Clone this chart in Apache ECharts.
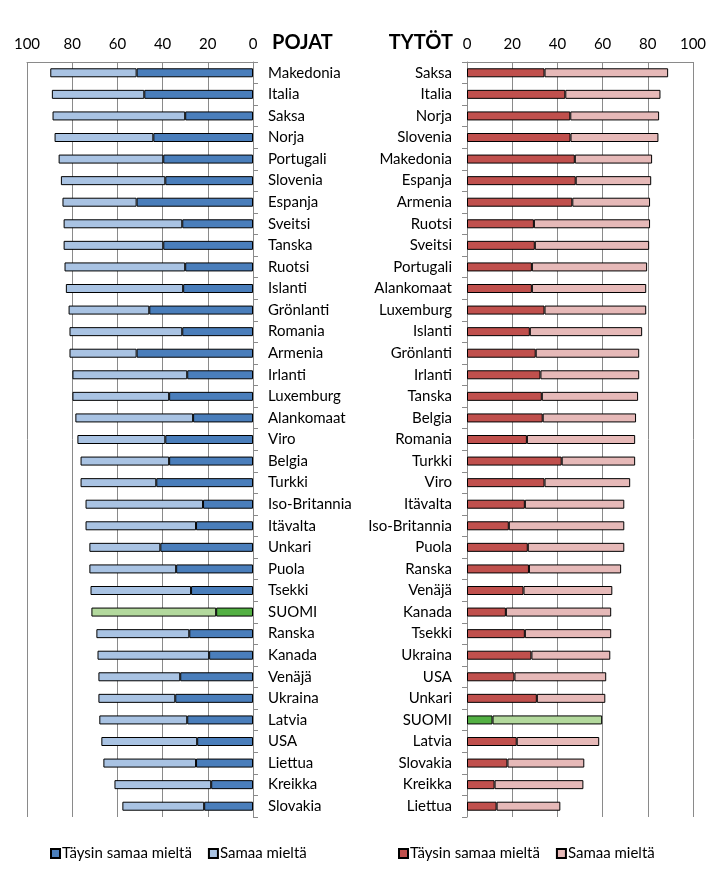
<!DOCTYPE html>
<html><head><meta charset="utf-8">
<script src="https://cdn.jsdelivr.net/npm/echarts@6/dist/echarts.min.js"></script>
<style>html,body{margin:0;padding:0;background:#fff}#c{width:720px;height:880px}</style>
</head><body><div id="c"></div>
<script>
var boysCats = ['Makedonia','Italia','Saksa','Norja','Portugali','Slovenia','Espanja','Sveitsi','Tanska','Ruotsi','Islanti','Grönlanti','Romania','Armenia','Irlanti','Luxemburg','Alankomaat','Viro','Belgia','Turkki','Iso-Britannia','Itävalta','Unkari','Puola','Tsekki','SUOMI','Ranska','Kanada','Venäjä','Ukraina','Latvia','USA','Liettua','Kreikka','Slovakia'];
var boysTaysin = [51.5,48.1,30.0,44.1,39.7,38.8,51.5,31.3,39.7,30.0,30.9,45.9,31.3,51.5,29.1,37.1,26.5,38.8,37.1,42.8,22.1,25.2,41.0,34.0,27.4,16.3,28.2,19.4,32.2,34.4,29.1,24.7,25.2,18.5,21.6];
var boysSamaa  = [38.2,40.9,58.7,43.7,46.3,46.2,32.8,52.5,44.1,53.4,51.9,35.7,49.9,29.7,50.8,42.8,52.1,38.9,39.2,33.5,52.0,48.9,31.4,38.4,44.5,55.2,41.1,49.4,36.2,34.0,38.9,42.4,41.0,42.8,36.2];

var girlsCats = ['Saksa','Italia','Norja','Slovenia','Makedonia','Espanja','Armenia','Ruotsi','Sveitsi','Portugali','Alankomaat','Luxemburg','Islanti','Grönlanti','Irlanti','Tanska','Belgia','Romania','Turkki','Viro','Itävalta','Iso-Britannia','Puola','Ranska','Venäjä','Kanada','Tsekki','Ukraina','USA','Unkari','SUOMI','Latvia','Slovakia','Kreikka','Liettua'];
var girlsTaysin = [34.3,43.5,45.7,45.8,47.7,48.1,46.6,29.6,30.0,28.7,28.7,34.3,27.8,30.4,32.5,33.1,33.5,26.5,41.9,34.3,25.6,18.5,26.9,27.4,25.0,17.2,25.6,28.5,21.0,30.9,11.3,22.0,17.9,12.2,13.1];
var girlsSamaa  = [54.7,42.1,39.3,38.9,34.2,33.4,34.4,51.4,50.6,51.0,50.6,45.0,49.7,45.8,43.7,42.6,41.3,47.9,32.5,37.9,44.0,51.1,42.7,40.8,39.3,46.6,38.2,34.9,40.6,30.3,48.5,36.5,34.0,39.3,28.2];

var xTicks = [0,20,40,60,80,100];
var highlight = 'SUOMI';

var C = {
  blueDark:'#4a7ebb', blueLight:'#a9c3e3',
  redDark:'#c0504d', redLight:'#e6b9b8',
  greenDark:'#53b043', greenLight:'#b3d99d'
};
var FONT = 'Lato';

function mk(vals, cats, color, hiColor){
  return vals.map(function(v,i){
    return cats[i]===highlight ? {value:v, itemStyle:{color:hiColor}} : v;
  });
}

var chart = echarts.init(document.getElementById('c'), null, {renderer:'canvas'});
var gridTop = 62, gridH = 755, gridW = 226;
var axisLabelStyle = {color:'#000', fontSize:15, fontFamily:FONT};
var gridLineStyle = {color:'#8a8a8a', width:1};

function xAx(idx, inv){
  return {
    gridIndex:idx, type:'value', min:0, max:100, interval:20, inverse:inv, position:'top',
    axisLine:{show:true, lineStyle:{color:'#8a8a8a'}}, axisTick:{show:false},
    axisLabel:Object.assign({margin:10, formatter:function(v){return xTicks.indexOf(v)>=0?String(v):'';}}, axisLabelStyle),
    splitLine:{show:true, lineStyle:gridLineStyle}
  };
}
function yAx(idx, cats, pos){
  return {
    gridIndex:idx, type:'category', data:cats, inverse:true, position:pos,
    axisLine:{show:true, lineStyle:{color:'#8a8a8a'}},
    axisTick:{show:true, length:5, lineStyle:{color:'#8a8a8a'}},
    axisLabel:Object.assign({margin:15, align: pos==='right'?'left':'right'}, axisLabelStyle)
  };
}
function bar(name, xi, data, color, stack){
  return {
    name:name, type:'bar', xAxisIndex:xi, yAxisIndex:xi, stack:stack, barWidth:9,
    data:data, itemStyle:{color:color, borderColor:'#000', borderWidth:1},
    animation:false, silent:true
  };
}
var TS = 'Täysin samaa mieltä', SM = 'Samaa mieltä';
var fmt = function(n){ return n.replace(/ \(T\)$/,''); };

chart.setOption({
  animation:false,
  title:[
    {text:'POJAT', left:272, top:33, padding:0, textStyle:{fontSize:20, fontWeight:'bold', color:'#000', fontFamily:FONT}},
    {text:'TYTÖT', right:267, top:33, padding:0, textStyle:{fontSize:20, fontWeight:'bold', color:'#000', fontFamily:FONT}}
  ],
  grid:[
    {left:27, top:gridTop, width:gridW, height:gridH},
    {left:467, top:gridTop, width:gridW, height:gridH}
  ],
  xAxis:[xAx(0,true), xAx(1,false)],
  yAxis:[yAx(0,boysCats,'right'), yAx(1,girlsCats,'left')],
  legend:[
    {left:45, top:841, itemWidth:9, itemHeight:9, itemGap:16, icon:'rect', data:[TS, SM], formatter:fmt,
     textStyle:{fontSize:15, fontFamily:FONT, color:'#000', padding:[0,0,0,-3]}, selectedMode:false},
    {left:393, top:841, itemWidth:9, itemHeight:9, itemGap:16, icon:'rect', data:[TS+' (T)', SM+' (T)'], formatter:fmt,
     textStyle:{fontSize:15, fontFamily:FONT, color:'#000', padding:[0,0,0,-3]}, selectedMode:false}
  ],
  series:[
    bar(TS, 0, mk(boysTaysin, boysCats, C.blueDark, C.greenDark), C.blueDark, 'b'),
    bar(SM, 0, mk(boysSamaa, boysCats, C.blueLight, C.greenLight), C.blueLight, 'b'),
    bar(TS+' (T)', 1, mk(girlsTaysin, girlsCats, C.redDark, C.greenDark), C.redDark, 'g'),
    bar(SM+' (T)', 1, mk(girlsSamaa, girlsCats, C.redLight, C.greenLight), C.redLight, 'g')
  ]
});
</script>
</body></html>
